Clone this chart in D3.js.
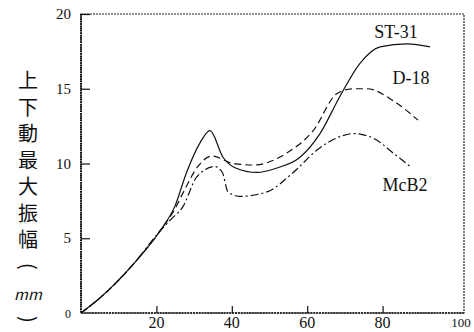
<!DOCTYPE html>
<html>
<head>
<meta charset="utf-8">
<script src="https://cdn.jsdelivr.net/npm/d3@7"></script>
<style>
  body { margin: 0; background: #fff; }
  svg { display: block; }
  .lbl { font-family: "Liberation Serif", "DejaVu Serif", serif; fill: #111; }
</style>
</head>
<body>
<div id="chart"></div>
<script>
// values
const xTicks = [20, 40, 60, 80, 100];
const yTicks = [0, 5, 10, 15, 20];
const yTitle = ["上", "下", "動", "最", "大", "振", "幅", "(", "mm", ")"];

const st31_x = [0, 5, 14, 21, 25, 28, 31.6, 34.2, 37.7, 41, 46.7, 52, 58, 63.4, 68.7, 74, 79.3, 86.5, 92.6];
const st31_y = [0, 1.0, 3.3, 5.5, 7.2, 9.4, 11.4, 12.2, 10.4, 9.7, 9.4, 9.7, 10.4, 12.0, 14.5, 16.7, 17.8, 18.0, 17.8];

const d18_x = [0, 5, 14, 21, 25, 27, 31, 34.7, 40.4, 45.7, 54.6, 61.6, 68, 72.2, 75.9, 82.8, 89.4];
const d18_y = [0, 1.0, 3.3, 5.5, 7.0, 8.0, 9.8, 10.5, 10.0, 9.9, 10.7, 12.2, 14.7, 15.0, 15.0, 14.2, 12.9];

const mcb2_x = [0, 5, 14, 21, 24, 27, 30.7, 35.5, 37.5, 39, 42.2, 49.3, 56.3, 62.6, 68.7, 72.2, 77.5, 82.8, 87.3];
const mcb2_y = [0, 1.0, 3.3, 5.5, 6.3, 7.1, 9.1, 9.8, 9.4, 8.1, 7.8, 8.1, 9.4, 10.9, 11.8, 12.0, 11.7, 10.7, 9.8];

const series = [
  { name: "ST-31", xs: st31_x, ys: st31_y, dash: null, lx: 396, ly: 38 },
  { name: "D-18", xs: d18_x, ys: d18_y, dash: "7,4", lx: 411, ly: 84 },
  { name: "McB2", xs: mcb2_x, ys: mcb2_y, dash: "8,3,2,3", lx: 405, ly: 191 },
];

const width = 474, height = 332;
const frame = { left: 81, top: 14, right: 464, bottom: 313 };

const x = d3.scaleLinear().domain([0, 100]).range([frame.left, 458]);
const y = d3.scaleLinear().domain([0, 20]).range([frame.bottom, frame.top]);

const svg = d3.select("#chart").append("svg")
  .attr("width", width)
  .attr("height", height);

// dotted frame around the plot
svg.append("rect")
  .attr("x", frame.left)
  .attr("y", frame.top)
  .attr("width", frame.right - frame.left)
  .attr("height", frame.bottom - frame.top)
  .attr("fill", "none")
  .attr("stroke", "#222")
  .attr("stroke-width", 1.2)
  .attr("stroke-dasharray", "2,1");

// heavier left and bottom axes
svg.append("line")
  .attr("x1", frame.left).attr("x2", frame.left)
  .attr("y1", frame.top).attr("y2", frame.bottom)
  .attr("stroke", "#111").attr("stroke-width", 2).attr("stroke-dasharray", "1.5,0.8");
svg.append("line")
  .attr("x1", frame.left).attr("x2", frame.right)
  .attr("y1", frame.bottom).attr("y2", frame.bottom)
  .attr("stroke", "#111").attr("stroke-width", 1.6).attr("stroke-dasharray", "2,0.8");

// y axis: ticks pointing inward
const yAxis = svg.append("g")
  .attr("transform", `translate(${frame.left},0)`)
  .call(d3.axisRight(y).tickValues(yTicks).tickSize(9).tickFormat(""));
yAxis.select(".domain").remove();
yAxis.selectAll(".tick line").attr("stroke", "#111").attr("stroke-width", 1.2);
yAxis.selectAll(".tick").filter((d) => d === 0).remove();

svg.selectAll(".ylab")
  .data(yTicks)
  .join("text")
  .attr("class", "lbl ylab")
  .attr("x", 71)
  .attr("y", (d) => y(d) + 5)
  .attr("text-anchor", "end")
  .attr("font-size", (d) => (d === 0 ? 12 : 15))
  .text((d) => d);

// x axis: ticks pointing up
const xAxis = svg.append("g")
  .attr("transform", `translate(0,${frame.bottom})`)
  .call(d3.axisTop(x).tickValues(xTicks.slice(0, 4)).tickSize(7).tickFormat(""));
xAxis.select(".domain").remove();
xAxis.selectAll(".tick line").attr("stroke", "#111").attr("stroke-width", 1.2);

svg.selectAll(".xlab")
  .data(xTicks)
  .join("text")
  .attr("class", "lbl xlab")
  .attr("x", (d) => x(d) + (d === 100 ? 3 : 0))
  .attr("y", (d) => (d === 100 ? 327 : 328))
  .attr("text-anchor", "middle")
  .attr("font-size", (d) => (d === 100 ? 13 : 16))
  .text((d) => d);

// y title, one character per row
svg.selectAll(".ytitle")
  .data(yTitle)
  .join("text")
  .attr("class", "ytitle")
  .attr("x", 28)
  .attr("y", (d, i) => 88 + i * 26.5)
  .attr("text-anchor", "middle")
  .attr("font-family", "'Noto Sans CJK JP', sans-serif")
  .attr("font-size", (d) => (d === "mm" ? 15 : 20))
  .attr("font-style", (d) => (d === "mm" ? "italic" : "normal"))
  .attr("transform", (d, i) => (d === "(" || d === ")") ? `rotate(90,28,${88 + i * 26.5 - 7})` : null)
  .attr("fill", "#111")
  .text((d) => d);

const line = d3.line()
  .x((d) => x(d[0]))
  .y((d) => y(d[1]))
  .curve(d3.curveMonotoneX);

series.forEach((s) => {
  const pts = s.xs.map((v, i) => [v, s.ys[i]]);
  svg.append("path")
    .datum(pts)
    .attr("fill", "none")
    .attr("stroke", "#111")
    .attr("stroke-width", 1.2)
    .attr("stroke-dasharray", s.dash)
    .attr("d", line);

  svg.append("text")
    .attr("class", "lbl")
    .attr("x", s.lx)
    .attr("y", s.ly)
    .attr("text-anchor", "middle")
    .attr("font-size", 18)
    .text(s.name);
});
</script>
</body>
</html>
